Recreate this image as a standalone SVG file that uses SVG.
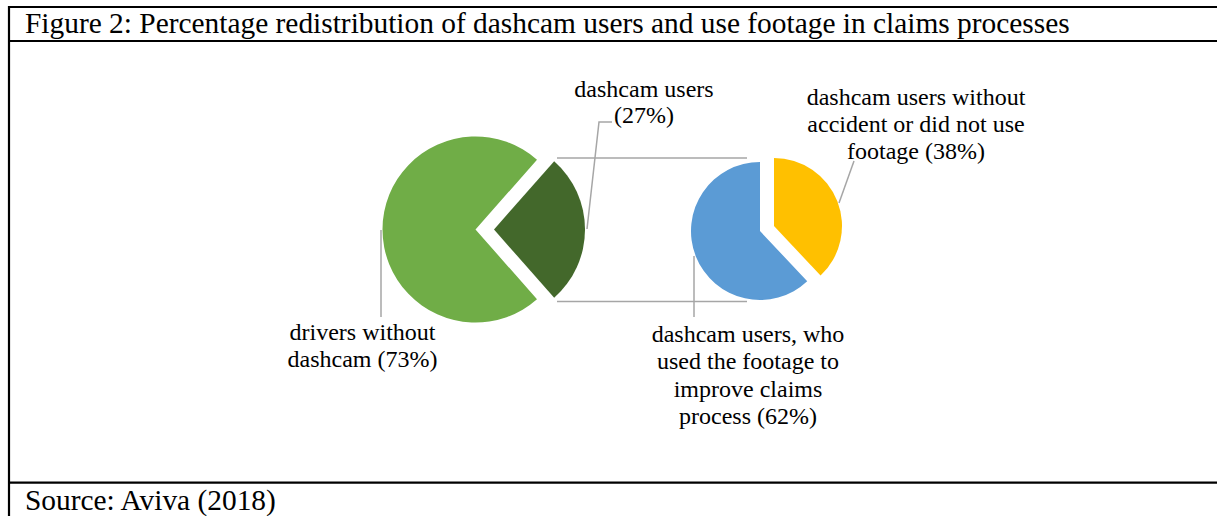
<svg xmlns="http://www.w3.org/2000/svg" width="1217" height="516" viewBox="0 0 1217 516">
<style>
text{font-family:"Liberation Serif","Times New Roman",serif;fill:#000}
.t{font-size:29.4px}
.l{font-size:24px;text-anchor:middle}
.ln{stroke:#A6A6A6;stroke-width:1.5;fill:none}
.frame{stroke:#000;stroke-width:2.2;fill:none}
</style>
<rect width="1217" height="516" fill="#fff"/>
<g id="frame">
<line class="frame" x1="9" y1="7" x2="1217" y2="7"/>
<line class="frame" x1="9" y1="41" x2="1217" y2="41"/>
<line class="frame" x1="9" y1="482.7" x2="1217" y2="482.7"/>
<line class="frame" x1="9" y1="6" x2="9" y2="516"/>
<text class="t" x="25" y="33">Figure 2: Percentage redistribution of dashcam users and use footage in claims processes</text>
<text class="t" x="25" y="510">Source: Aviva (2018)</text>
</g>
<g id="connectors">
<line class="ln" x1="557" y1="158" x2="747" y2="158"/>
<line class="ln" x1="557" y1="301.5" x2="747" y2="301.5"/>
<polyline class="ln" points="612,122 599,122 587,229"/>
<line class="ln" x1="381" y1="230" x2="381" y2="317"/>
<line class="ln" x1="854" y1="161" x2="839" y2="203"/>
<line class="ln" x1="694" y1="256" x2="694" y2="317"/>
</g>
<g id="drivers-without-dashcam">
<path d="M475.5,229.5 L537,299.26 A93,93 0 1 1 537,159.74 Z" fill="#70AD47"/>
<text class="l" x="362.5" y="340">drivers without</text>
<text class="l" x="362.5" y="366.5">dashcam (73%)</text>
</g>
<g id="dashcam-users">
<path d="M494,229.5 L554.18,161.24 A91,91 0 0 1 554.18,297.76 Z" fill="#43682B"/>
<text class="l" x="644" y="96.5">dashcam users</text>
<text class="l" x="644" y="123">(27%)</text>
</g>
<g id="used-footage">
<path d="M760,231 L807.23,281.3 A69,69 0 1 1 760,162 Z" fill="#5B9BD5"/>
<text class="l" x="748" y="341.5">dashcam users, who</text>
<text class="l" x="748" y="369">used the footage to</text>
<text class="l" x="748" y="396.5">improve claims</text>
<text class="l" x="748" y="424">process (62%)</text>
</g>
<g id="no-accident">
<path d="M774,226 L774,158 A68,68 0 0 1 820.55,275.57 Z" fill="#FFC000"/>
<text class="l" x="916" y="105">dashcam users without</text>
<text class="l" x="916" y="132">accident or did not use</text>
<text class="l" x="916" y="159">footage (38%)</text>
</g>
</svg>
